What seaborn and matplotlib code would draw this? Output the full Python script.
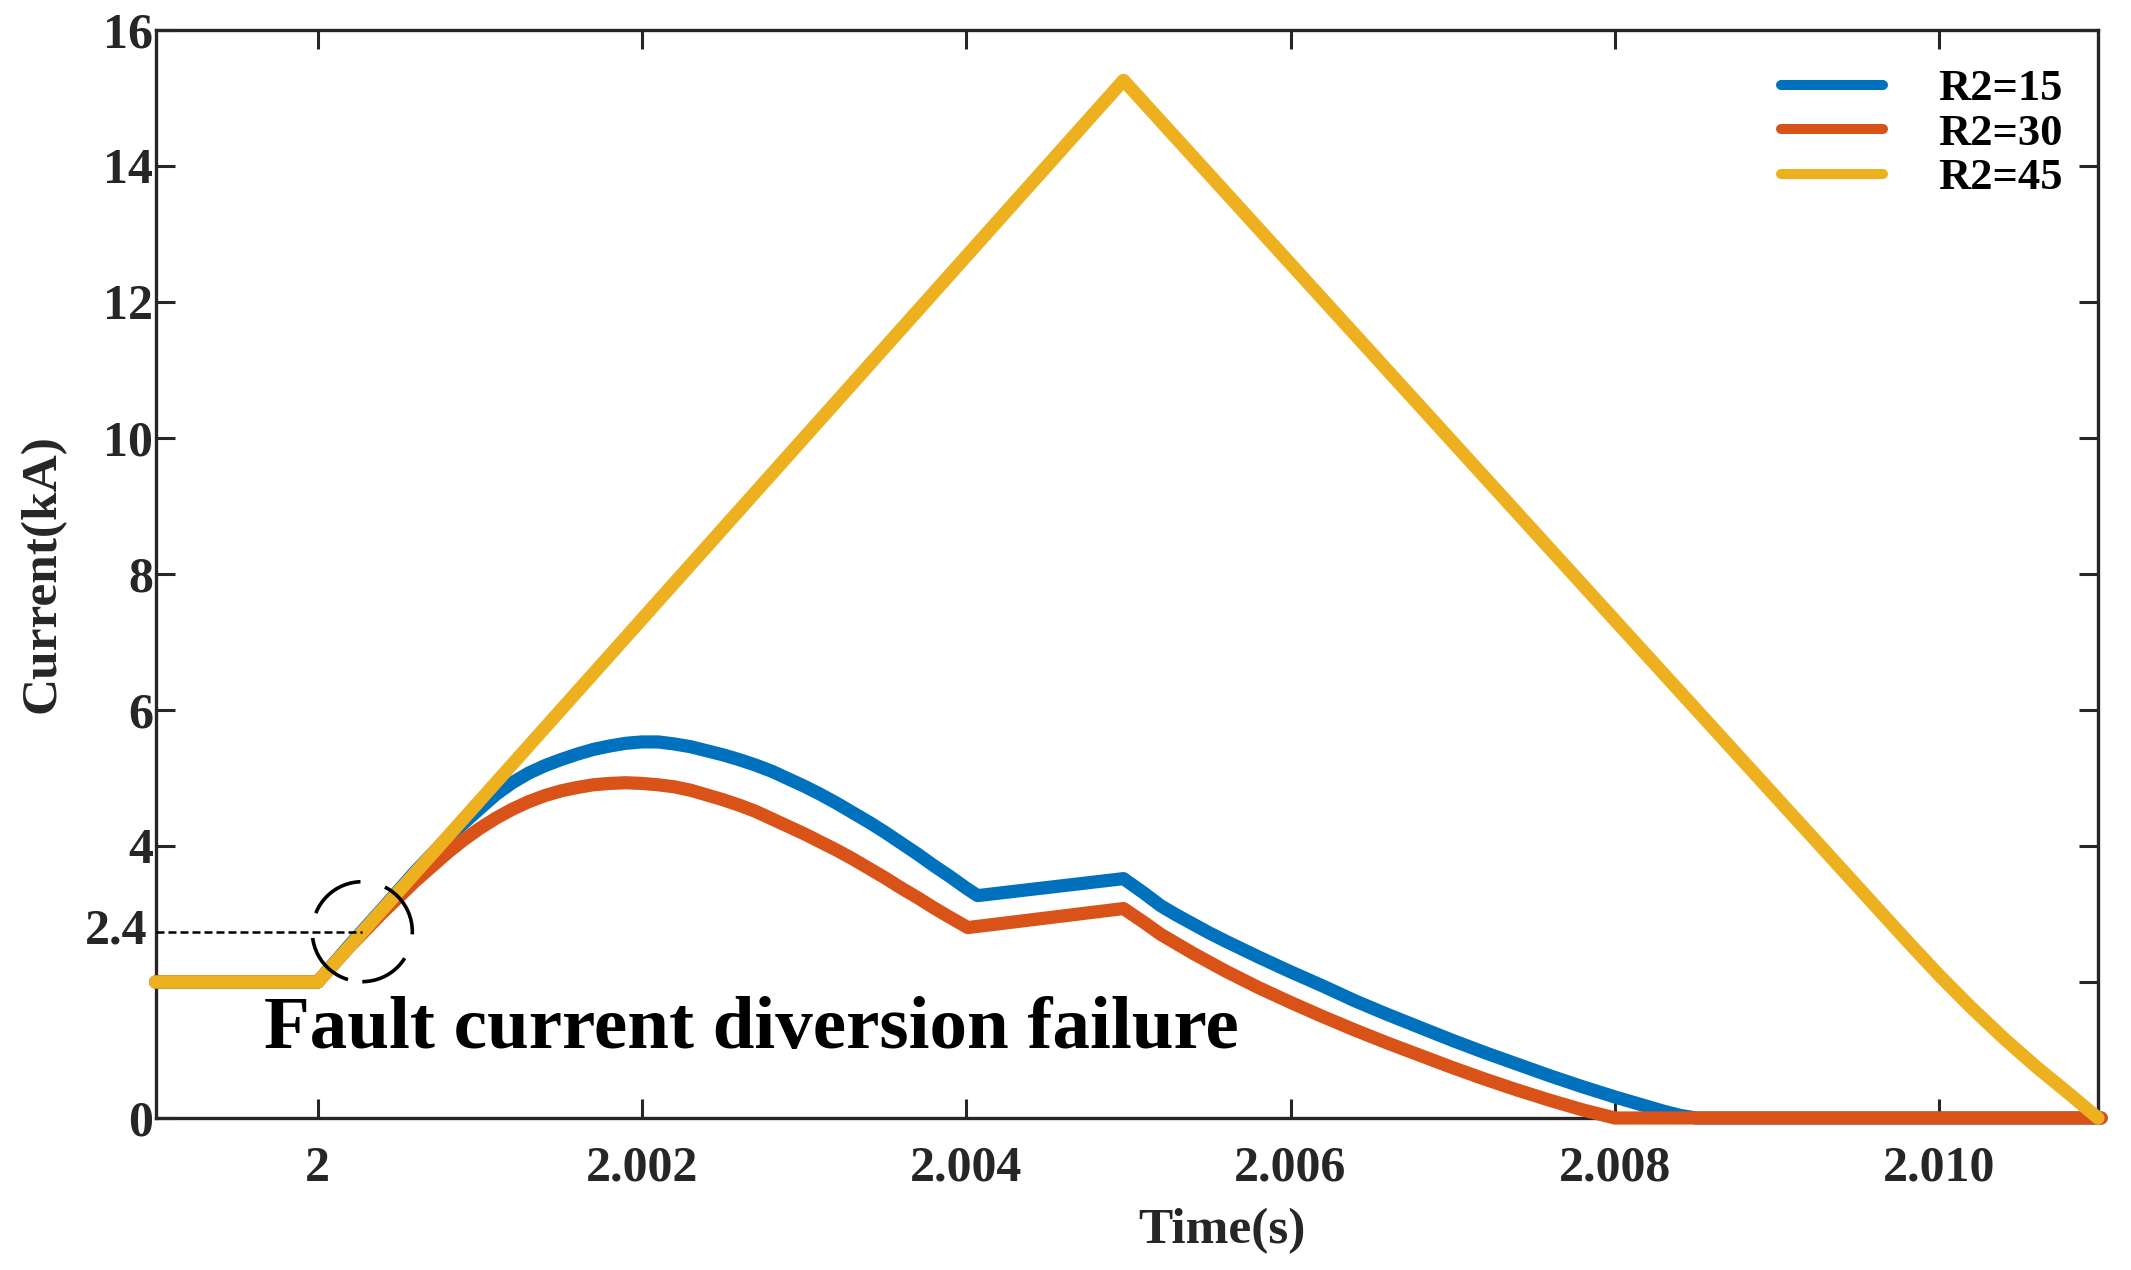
import pandas as pd
import seaborn as sns
import matplotlib.pyplot as plt
from matplotlib.patches import Ellipse
import matplotlib.transforms as mtransforms

# Read-off values (time in s, current in kA)
t_r15 = [1.999, 2.0, 2.0002, 2.0004, 2.0006, 2.0008, 2.0010, 2.0011, 2.0012, 2.0013,
         2.0014, 2.0015, 2.0016, 2.0017, 2.0018, 2.0019, 2.0020, 2.0021, 2.0022,
         2.0023, 2.0024, 2.0025, 2.0026, 2.0027, 2.0028, 2.0029, 2.0030, 2.0031,
         2.0032, 2.0033, 2.0034, 2.0035, 2.0036, 2.0037, 2.0038, 2.0039, 2.0040,
         2.00407, 2.00497, 2.0051, 2.0052, 2.0053, 2.0054, 2.0055, 2.0056, 2.0058,
         2.0060, 2.0062, 2.0064, 2.0066, 2.0068, 2.0070, 2.0072, 2.0074, 2.0076,
         2.0078, 2.0080, 2.0082, 2.0083, 2.0084, 2.0085, 2.011]
i_r15 = [2.0, 2.0, 2.55, 3.08, 3.62, 4.12, 4.55, 4.76, 4.93, 5.07,
         5.18, 5.27, 5.35, 5.42, 5.47, 5.51, 5.53, 5.53, 5.50,
         5.46, 5.40, 5.34, 5.27, 5.19, 5.10, 4.99, 4.88, 4.76,
         4.63, 4.49, 4.35, 4.20, 4.04, 3.88, 3.71, 3.55, 3.38,
         3.27, 3.52, 3.30, 3.12, 2.98, 2.85, 2.72, 2.60, 2.37,
         2.15, 1.94, 1.72, 1.52, 1.33, 1.14, 0.96, 0.79, 0.62,
         0.46, 0.31, 0.17, 0.10, 0.04, 0.0, 0.0]

t_r30 = [1.999, 2.0, 2.0002, 2.0004, 2.0005, 2.0006, 2.0007, 2.0008, 2.0009, 2.0010,
         2.0011, 2.0012, 2.0013, 2.0014, 2.0015, 2.0016, 2.0017, 2.0018, 2.0019,
         2.0020, 2.0021, 2.0022, 2.0023, 2.0024, 2.0025, 2.0026, 2.0027, 2.0028,
         2.0029, 2.0030, 2.0031, 2.0032, 2.0033, 2.0034, 2.0035, 2.0036, 2.0037,
         2.0038, 2.0039, 2.00401, 2.00497, 2.0051, 2.0052, 2.0053, 2.0054, 2.0055,
         2.0056, 2.0058, 2.0060, 2.0062, 2.0064, 2.0066, 2.0068, 2.0070, 2.0072,
         2.0074, 2.0076, 2.0078, 2.0080, 2.011]
i_r30 = [2.0, 2.0, 2.53, 3.02, 3.25, 3.48, 3.69, 3.90, 4.09, 4.26,
         4.41, 4.54, 4.65, 4.74, 4.81, 4.86, 4.90, 4.92, 4.93,
         4.92, 4.90, 4.87, 4.82, 4.75, 4.68, 4.60, 4.51, 4.40,
         4.29, 4.18, 4.06, 3.94, 3.81, 3.67, 3.53, 3.38, 3.24,
         3.09, 2.95, 2.80, 3.08, 2.87, 2.70, 2.56, 2.42, 2.29,
         2.16, 1.92, 1.70, 1.49, 1.29, 1.10, 0.92, 0.74, 0.57,
         0.41, 0.26, 0.12, 0.0, 0.0]

t_r45 = [1.999, 2.0, 2.00497, 2.0080, 2.0098, 2.0100, 2.0102, 2.0104, 2.0106,
         2.0108, 2.01098]
i_r45 = [2.0, 2.0, 15.26, 7.32, 2.61, 2.10, 1.62, 1.17, 0.75,
         0.36, 0.0]

series_names = ['R2=15', 'R2=30', 'R2=45']
colors = ['#0072BD', '#D95319', '#EDB120']

xticks = [2.0, 2.002, 2.004, 2.006, 2.008, 2.010]
xtick_labels = ['2', '2.002', '2.004', '2.006', '2.008', '2.010']
yticks = [0, 2, 4, 6, 8, 10, 12, 14, 16]
ytick_labels = ['0', '', '4', '6', '8', '10', '12', '14', '16']

fail_level = 2.74        # where the "2.4" mark sits on the picture
fail_time = 2.000275
fail_label = '2.4'
note_text = 'Fault current diversion failure'

df = pd.concat([
    pd.DataFrame({'Time': t_r15, 'Current': i_r15, 'Case': series_names[0]}),
    pd.DataFrame({'Time': t_r30, 'Current': i_r30, 'Case': series_names[1]}),
    pd.DataFrame({'Time': t_r45, 'Current': i_r45, 'Case': series_names[2]}),
])

sns.set_style('ticks')
plt.rcParams['font.family'] = ['Liberation Serif', 'DejaVu Serif']
plt.rcParams['font.weight'] = 'bold'

fig = plt.figure(figsize=(21.31, 12.70), dpi=100)
ax = fig.add_axes([0.0730, 0.1197, 0.9115, 0.8567])

sns.lineplot(data=df, x='Time', y='Current', hue='Case', palette=colors,
             hue_order=series_names, estimator=None, sort=False, lw=9.5, ax=ax)
for ln in ax.lines:
    ln.set_solid_capstyle('round')
    ln.set_solid_joinstyle('round')
    ln.set_clip_on(False)
    ln.set_zorder(3)

ax.set_xlim(1.999, 2.01098)
ax.set_ylim(0, 16)
ax.set_xticks(xticks)
ax.set_xticklabels(xtick_labels)
ax.set_yticks(yticks)
ax.set_yticklabels(ytick_labels)

dark = '#262626'
for sp in ax.spines.values():
    sp.set_visible(True)
    sp.set_linewidth(2.4)
    sp.set_color(dark)
    sp.set_zorder(2)
ax.tick_params(direction='in', length=14, width=2.2, color=dark, labelcolor=dark,
               top=True, right=True, labelsize=36)
ax.tick_params(axis='x', pad=20)
ax.tick_params(axis='y', pad=2)

ax.set_xlabel('Time(s)', fontsize=37, fontweight='bold', color=dark)
ax.set_ylabel('Current(kA)', fontsize=37, fontweight='bold', color=dark)
ax.xaxis.set_label_coords(0.549, -0.083)
ax.yaxis.label.set_va('center')
ax.yaxis.set_label_coords(-0.058, 0.5)

# dotted guide and dashed circle at the failure point
ax.plot([1.999, fail_time], [fail_level, fail_level], color='black', lw=1.8,
        linestyle=(0, (3.2, 1.6)), zorder=4, clip_on=False)
trans = mtransforms.blended_transform_factory(ax.transAxes, ax.transData)
ax.text(-0.004, fail_level, fail_label, transform=trans, ha='right', va='center',
        fontsize=36, fontweight='bold', color=dark)
circ = Ellipse((fail_time, fail_level), width=0.000617, height=1.47, fill=False,
               edgecolor='black', lw=2.6, linestyle=(2, (16, 7)), zorder=5)
ax.add_patch(circ)

ax.text(0.0558, 0.064, note_text, transform=ax.transAxes, fontsize=54,
        fontweight='bold', color='black', va='baseline', ha='left')

handles, labels = ax.get_legend_handles_labels()
leg = ax.legend(handles, labels, loc='upper right', bbox_to_anchor=(0.982, 0.964),
                frameon=False, fontsize=32, handlelength=2.3, handletextpad=1.25,
                labelspacing=0.1, borderpad=0, borderaxespad=0)
for h in leg.get_lines():
    h.set_linewidth(7.2)
    h.set_solid_capstyle('round')
for txt in leg.get_texts():
    txt.set_color('black')
    txt.set_fontweight('bold')

fig.savefig('out.png', dpi=100)
